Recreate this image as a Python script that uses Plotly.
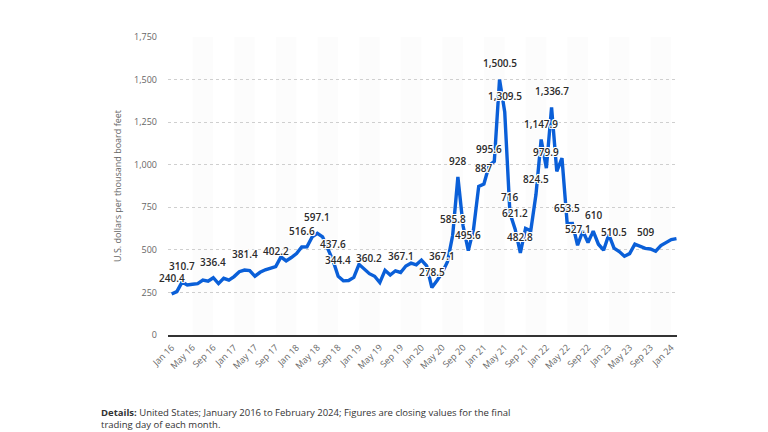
import pandas as pd
import plotly.graph_objects as go

# Monthly closing lumber price, Jan 2016 - Feb 2024 (USD per thousand board feet)
months = list(pd.date_range("2016-01-01", periods=98, freq="MS").strftime("%b %y"))
prices = [
    240.4, 255, 310.7, 294, 298, 302, 322, 316, 336.4, 302, 333, 322,      # 2016
    343, 372, 381.4, 378, 345, 368, 383, 392, 402.2, 459, 435, 455,        # 2017
    478, 516.6, 518, 576, 597.1, 576, 505, 437.6, 344.4, 318, 320, 338,    # 2018
    415, 388, 360.2, 345, 308, 380, 352, 377, 367.1, 405, 422, 412,        # 2019
    440, 406, 278.5, 320, 367.1, 430, 585.8, 928, 640, 495.6, 620, 873,    # 2020
    887, 995.6, 1020, 1500.5, 1309.5, 716, 621.2, 482.8, 626, 612, 824.5, 1147.9,  # 2021
    979.9, 1336.7, 961, 1038, 653.5, 655, 527.1, 611, 543, 610, 533, 498,  # 2022
    590, 510.5, 490, 463, 478, 533, 520, 509, 505, 492, 525, 545,          # 2023
    560, 566,                                                              # 2024
]

# Points that carry a value label
labelled_months = [
    "Jan 16", "Mar 16", "Sep 16", "Mar 17", "Sep 17", "Feb 18", "May 18", "Aug 18",
    "Sep 18", "Mar 19", "Sep 19", "Mar 20", "May 20", "Jul 20", "Aug 20", "Oct 20",
    "Jan 21", "Feb 21", "Apr 21", "May 21", "Jun 21", "Jul 21", "Aug 21", "Nov 21",
    "Dec 21", "Jan 22", "Feb 22", "May 22", "Jul 22", "Oct 22", "Feb 23", "Aug 23",
]

tick_labels = ["Jan 16", "May 16", "Sep 16", "Jan 17", "May 17", "Sep 17", "Jan 18",
               "May 18", "Sep 18", "Jan 19", "May 19", "Sep 19", "Jan 20", "May 20",
               "Sep 20", "Jan 21", "May 21", "Sep 21", "Jan 22", "May 22", "Sep 22",
               "Jan 23", "May 23", "Sep 23", "Jan 24"]

y_ticks = [0, 250, 500, 750, 1000, 1250, 1500, 1750]

LINE = "#0a5fd8"
FONT = "Open Sans"


def fmt(v):
    s = f"{v:,.1f}"
    return s[:-2] if s.endswith(".0") else s


fig = go.Figure()
fig.add_trace(go.Scatter(
    x=months, y=prices, mode="lines",
    line=dict(color=LINE, width=3.4, shape="linear"),
    hoverinfo="skip", showlegend=False,
))

# faint alternating vertical bands between ticks
shapes = []
for i in range(1, len(tick_labels) - 1, 2):
    x0 = months.index(tick_labels[i])
    x1 = months.index(tick_labels[i + 1])
    shapes.append(dict(type="rect", xref="x", yref="paper", x0=x0, x1=x1, y0=0, y1=1,
                       fillcolor="rgba(0,0,0,0.012)", line=dict(width=0), layer="below"))

halo = "1px 1px 0 #fff, -1px -1px 0 #fff, 1px -1px 0 #fff, -1px 1px 0 #fff, 0 1px 0 #fff, 0 -1px 0 #fff, 1px 0 0 #fff, -1px 0 0 #fff"
annotations = []
for m in labelled_months:
    v = prices[months.index(m)]
    annotations.append(dict(
        x=m, y=v, xref="x", yref="y", text=fmt(v), showarrow=False,
        yshift=16, xanchor="center", yanchor="middle",
        font=dict(family=FONT, size=10, color="#2b2b2b", weight=600, shadow=halo),
    ))

annotations.append(dict(
    xref="paper", yref="paper", x=-0.136, y=-0.232, xanchor="left", yanchor="top",
    align="left", showarrow=False,
    text="<b>Details:</b> United States; January 2016 to February 2024; Figures are closing values for the final<br>trading day of each month.",
    font=dict(family=FONT, size=9.5, color="#333333"),
))

fig.update_layout(
    width=768, height=432,
    margin=dict(l=160, r=99, t=29, b=105),
    paper_bgcolor="white", plot_bgcolor="white",
    font=dict(family=FONT, color="#666666", size=9),
    shapes=shapes, annotations=annotations,
    showlegend=False,
)
fig.update_xaxes(
    type="category", range=[-0.7, 97.1],
    tickmode="array", tickvals=tick_labels, ticktext=tick_labels,
    tickangle=-45, tickfont=dict(size=9, color="#666666", family=FONT),
    showgrid=False, zeroline=False,
    showline=True, linecolor="#333333", linewidth=1.5,
    ticks="", ticklabelstandoff=2,
)
fig.update_yaxes(
    range=[0, 1750], tickmode="array", tickvals=y_ticks,
    tickformat=",", tickfont=dict(size=9, color="#666666", family=FONT),
    showgrid=True, gridcolor="#cfcfcf", griddash="dot", gridwidth=1,
    zeroline=False, showline=False, ticks="", ticklabelstandoff=10,
    title=dict(text="U.S. dollars per thousand board feet",
               font=dict(size=9, color="#666666", family=FONT), standoff=10),
)

fig.write_html("out.html")
